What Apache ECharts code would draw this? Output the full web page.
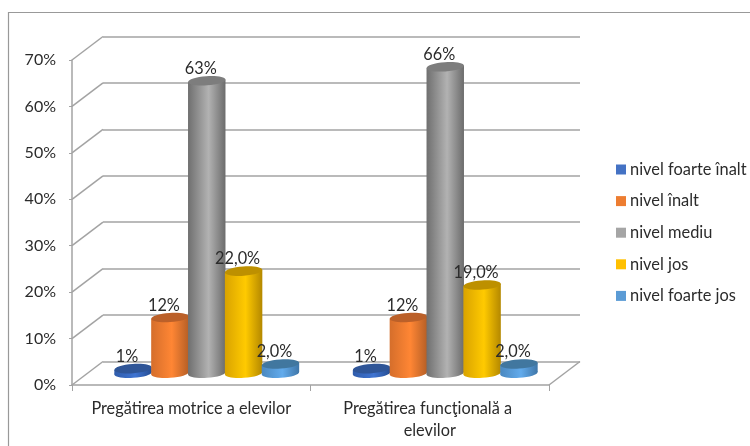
<!DOCTYPE html>
<html>
<head>
<meta charset="utf-8">
<style>html,body{margin:0;padding:0;background:#fff}#chart{width:750px;height:446px}</style>
<script src="https://cdn.jsdelivr.net/npm/echarts@6/dist/echarts.min.js"></script>
</head>
<body>
<div id="chart"></div>
<script>
// Category and series data
const categories = ['Pregătirea motrice a elevilor', 'Pregătirea funcţională a elevilor'];
const levelNames = ['nivel foarte înalt', 'nivel înalt', 'nivel mediu', 'nivel jos', 'nivel foarte jos'];
const foarteInalt = [1, 1];
const inalt = [12, 12];
const mediu = [63, 66];
const jos = [22, 19];
const foarteJos = [2, 2];
const foarteInaltLabels = ['1%', '1%'];
const inaltLabels = ['12%', '12%'];
const mediuLabels = ['63%', '66%'];
const josLabels = ['22,0%', '19,0%'];
const foarteJosLabels = ['2,0%', '2,0%'];
const wallTicks = [0, 10, 20, 30, 40, 50, 60, 70];

const seriesValues = [foarteInalt, inalt, mediu, jos, foarteJos];
const seriesLabels = [foarteInaltLabels, inaltLabels, mediuLabels, josLabels, foarteJosLabels];

// legend colour, cylinder shading (edge, centre, far edge) and lid colour
const palette = [
  { base: '#4472c4', left: '#2f5cab', mid: '#3f74d2', right: '#264d92', lid: '#2f5597' },
  { base: '#ed7d31', left: '#d56e2b', mid: '#ff8634', right: '#b65f26', lid: '#bb6029' },
  { base: '#a5a5a5', left: '#6f6f6f', mid: '#b2b2b2', right: '#6c6c6c', lid: '#7d7d7d' },
  { base: '#ffc000', left: '#d9a300', mid: '#ffca00', right: '#b48800', lid: '#bd9000' },
  { base: '#5b9bd5', left: '#4a88c0', mid: '#62abec', right: '#3f76a8', lid: '#41779f' }
];

const GRID_COLOR = '#a3a3a3';
const TEXT_COLOR = '#2b2b2b';
const FONT = 'Lato, "Open Sans", sans-serif';
const DEPTH_X = 31, DEPTH_Y = -23.5;  // oblique depth of the chart box
const FRONT = { left: 72, top: 60, width: 477, height: 325 };
const TILT = -4 * Math.PI / 180;      // cylinders lean slightly in the projection

const chart = echarts.init(document.getElementById('chart'), null, { renderer: 'canvas' });

function cylinder(seriesIndex) {
  const colors = palette[seriesIndex];
  return function (params, api) {
    const cat = api.value(0), val = api.value(1);
    const band = api.size([1, 0])[0];
    const step = band * 0.1545;
    const rx = band * 0.0785, ry = 4.6;
    const top = api.coord([cat, val]);
    const base = api.coord([cat, 0]);
    const cx = top[0] + (seriesIndex - 2) * step;
    const lean = rx * Math.sin(-TILT);
    const fill = new echarts.graphic.LinearGradient(0, 0, 1, 0, [
      { offset: 0, color: colors.left },
      { offset: 0.55, color: colors.mid },
      { offset: 1, color: colors.right }
    ]);
    const ellipse = (cy, color, z2) => ({
      type: 'ellipse',
      shape: { cx: cx, cy: cy, rx: rx, ry: ry },
      rotation: -TILT,
      originX: cx, originY: cy,
      style: { fill: color },
      z2: z2
    });
    return {
      type: 'group',
      children: [
        ellipse(base[1], fill, 1),
        {
          type: 'polygon',
          shape: { points: [
            [cx - rx, top[1] + lean], [cx + rx, top[1] - lean],
            [cx + rx, base[1] - lean], [cx - rx, base[1] + lean]
          ] },
          style: { fill: fill },
          z2: 2
        },
        ellipse(top[1], colors.lid, 3),
        {
          type: 'text',
          style: {
            x: cx - 6, y: top[1] - 12,
            text: seriesLabels[seriesIndex][cat],
            fill: TEXT_COLOR, font: '16.3px ' + FONT,
            align: 'center', verticalAlign: 'middle'
          },
          z2: 4
        }
      ]
    };
  };
}

// Oblique lines joining the front axes to the back wall
function sideWall(params, api) {
  const box = params.coordSys;
  const p = api.coord([0, api.value(0)]);
  const x0 = box.x;
  const line = (x, y) => ({
    type: 'line',
    shape: { x1: x, y1: y, x2: x + DEPTH_X, y2: y + DEPTH_Y },
    style: { stroke: GRID_COLOR, lineWidth: 1.5 }
  });
  const children = [line(x0, p[1])];
  if (api.value(0) === 0) children.push(line(x0 + box.width, p[1]));
  return { type: 'group', children: children };
}

const hiddenCategory = { type: 'category', data: categories, show: false };

chart.setOption({
  animation: false,
  backgroundColor: '#ffffff',
  textStyle: { fontFamily: FONT },
  graphic: [{
    type: 'polyline',
    silent: true,
    shape: { points: [[8.5, 446], [8.5, 12.5], [750, 12.5]] },
    style: { stroke: '#999999', lineWidth: 1.2, fill: null }
  }],
  legend: {
    data: levelNames,
    orient: 'vertical',
    left: 611, top: 156.5,
    icon: 'rect',
    itemWidth: 10, itemHeight: 10, itemGap: 15.6,
    textStyle: { color: TEXT_COLOR, fontSize: 16.4, fontFamily: FONT, padding: [0, 0, 0, -1] }
  },
  grid: [
    { left: FRONT.left, top: FRONT.top, width: FRONT.width, height: FRONT.height },
    { left: FRONT.left + DEPTH_X, top: FRONT.top + DEPTH_Y, width: FRONT.width, height: FRONT.height },
    { left: FRONT.left + DEPTH_X / 2, top: FRONT.top + DEPTH_Y / 2, width: FRONT.width, height: FRONT.height }
  ],
  xAxis: [
    {
      gridIndex: 0, type: 'category', data: categories,
      axisLine: { lineStyle: { color: GRID_COLOR, width: 1.5 } },
      axisTick: { show: true, length: 6, lineStyle: { color: GRID_COLOR } },
      axisLabel: {
        color: TEXT_COLOR, fontSize: 16.3, fontFamily: FONT, margin: 12.5,
        lineHeight: 22, width: 215, overflow: 'break', interval: 0
      }
    },
    Object.assign({ gridIndex: 1 }, hiddenCategory),
    Object.assign({ gridIndex: 2 }, hiddenCategory)
  ],
  yAxis: [
    {
      gridIndex: 0, type: 'value', min: 0, max: 70, interval: 10,
      axisLine: { show: true, lineStyle: { color: GRID_COLOR, width: 1.5 } },
      axisTick: { show: true, length: 3, lineStyle: { color: GRID_COLOR } },
      splitLine: { show: false },
      axisLabel: { color: TEXT_COLOR, fontSize: 16, fontFamily: FONT, margin: 16, padding: [4, 0, 0, 0], formatter: '{value}%' }
    },
    {
      gridIndex: 1, type: 'value', min: 0, max: 70, interval: 10,
      axisLine: { show: false }, axisTick: { show: false }, axisLabel: { show: false },
      splitLine: { show: true, lineStyle: { color: GRID_COLOR, width: 1.5 } }
    },
    { gridIndex: 2, type: 'value', min: 0, max: 70, show: false }
  ],
  series: [
    {
      type: 'custom',
      xAxisIndex: 0, yAxisIndex: 0,
      renderItem: sideWall,
      data: wallTicks.map(v => [v]),
      encode: { y: 0 },
      silent: true, clip: false, z: 1
    }
  ].concat(levelNames.map((name, i) => ({
    name: name,
    type: 'custom',
    xAxisIndex: 2, yAxisIndex: 2,
    renderItem: cylinder(i),
    data: seriesValues[i].map((v, c) => [c, v]),
    encode: { x: 0, y: 1 },
    itemStyle: { color: palette[i].base },
    clip: false,
    z: 5 + i
  })))
});
</script>
</body>
</html>
